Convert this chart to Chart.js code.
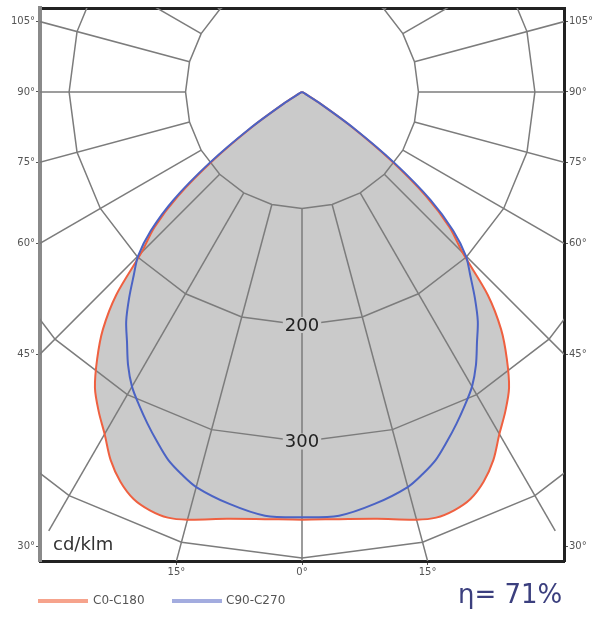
<!DOCTYPE html>
<html><head><meta charset="utf-8">
<script src="https://cdn.jsdelivr.net/npm/chart.js@4.4.1/dist/chart.umd.min.js"></script>
<style>html,body{margin:0;padding:0;background:#fff}canvas{display:block}</style>
</head><body>
<canvas id="c" width="600" height="617"></canvas>
<script>
// ---------- data ----------
const angles   = [0,5,10,15,17.5,20,22.5,25,27.5,30,32.5,35,37.5,40,42.5,45,47.5,50,52.5,55,57.5,60,65,70,75,80,85,90];
const c0c180   = [367,368,372,380,383,382,378,369,356,339,325,310,289,266,236,195,172,139,95,51,17,3,0,0,0,0,0,0];
const c90c270  = [365,365,359,351,344,336,325,314,303,292,278,262,248,231,214,199,176,144,100,55,19,3,0,0,0,0,0,0];
const seriesNames = ['C0-C180','C90-C270'];
const gridRings = [100,200,300,400];
const gridSpokeStep = 15;
const spokeRange = [100,435];
const sideTickAngles = [105,90,75,60,45,30];
const bottomTickAngles = [-15,0,15];
const ringLabels = [200,300];
const unitLabel = 'cd/klm';
const efficiencyLabel = 'η= 71%';

// ---------- axis window ----------
const X_MIN = -225, X_MAX = 225, Y_MIN = -402.5, Y_MAX = 72;

const RAD = Math.PI/180;
function polar(deg, r){ return {x: r*Math.sin(deg*RAD), y: -r*Math.cos(deg*RAD)}; }
function closedCurve(vals){
  const pts = [];
  for (let i = angles.length-1; i >= 0; i--) pts.push(polar(-angles[i], vals[i]));
  for (let i = 1; i < angles.length; i++) pts.push(polar(angles[i], vals[i]));
  return pts;
}

const FILL = '#cacaca';
const seriesColors = ['#ef6040','#4b63c4'];
const legendColors = ['#f6a38c','#a3acdf'];
const gridStyle = {showLine:true, fill:false, borderColor:'#7c7c7c', borderWidth:1.5, pointRadius:0, clip:0};
const CURVE_TENSION = 0.3;

const datasets = [];
[c0c180, c90c270].forEach((v,i) => datasets.push({
  label: seriesNames[i]+' area', data: closedCurve(v), showLine:true, fill:'shape', tension:CURVE_TENSION,
  backgroundColor: FILL, borderColor:'rgba(0,0,0,0)', borderWidth:0, pointRadius:0, order:10, clip:0
}));
gridRings.forEach(r => {
  const pts = [];
  for (let a = 0; a <= 360; a += gridSpokeStep) pts.push(polar(a, r));
  datasets.push(Object.assign({data:pts, order:5}, gridStyle));
});
for (let a = 0; a < 360; a += gridSpokeStep) {
  datasets.push(Object.assign({data:[polar(a, spokeRange[0]), polar(a, spokeRange[1])], order:5}, gridStyle));
}
[c0c180, c90c270].forEach((v,i) => datasets.push({
  label: seriesNames[i], data: closedCurve(v), showLine:true, fill:false, tension:CURVE_TENSION,
  borderColor: seriesColors[i], borderWidth:2, pointRadius:0, order:2-i, clip:0
}));

const sideTickValue = a => X_MIN*Math.cos(a*RAD)/Math.sin(a*RAD);
const bottomTickValue = a => -Y_MIN*Math.tan(a*RAD);
const tickFont = {family:'DejaVu Sans', size:10};

function sideAxis(position, width){
  return {
    type:'linear', position, min:Y_MIN, max:Y_MAX, display:true, z:1,
    afterBuildTicks: s => { s.ticks = sideTickAngles.map(a => ({value: sideTickValue(a)})); },
    afterFit: s => { s.width = width; },
    ticks:{autoSkip:false, padding:1, color:'#555', font:tickFont,
      callback:(v,i) => sideTickAngles[i]+'°'},
    grid:{display:true, drawOnChartArea:false, drawTicks:true, tickLength:4, tickColor:'#555', lineWidth:1},
    border:{display:true, color: position==='left' ? '#8a8a8a' : '#222', width: position==='left' ? 4 : 3}
  };
}

const deco = {
  id:'deco',
  afterDatasetsDraw(chart){
    const {ctx, scales:{x, y}} = chart;
    ctx.save();
    ctx.font = '18px "DejaVu Sans"';
    ctx.textAlign = 'center'; ctx.textBaseline = 'middle';
    ringLabels.forEach(v => {
      const px = x.getPixelForValue(0), py = y.getPixelForValue(-v);
      const t = String(v), w = ctx.measureText(t).width;
      ctx.fillStyle = FILL; ctx.fillRect(px-w/2-2, py-8, w+4, 16);
      ctx.fillStyle = '#222'; ctx.fillText(t, px, py+1);
    });
    ctx.restore();
  },
  afterDraw(chart){
    const {ctx, chartArea:ca} = chart;
    ctx.save();
    ctx.fillStyle = '#333'; ctx.font = '18px "DejaVu Sans"';
    ctx.textAlign = 'left'; ctx.textBaseline = 'middle';
    ctx.fillText(unitLabel, ca.left+13, ca.bottom-16);
    // legend
    const ly = 601;
    const items = [{x0:38, x1:88, tx:93}, {x0:172, x1:222, tx:226}];
    items.forEach((it,i) => {
      ctx.strokeStyle = legendColors[i]; ctx.lineWidth = 4;
      ctx.beginPath(); ctx.moveTo(it.x0, ly); ctx.lineTo(it.x1, ly); ctx.stroke();
      ctx.fillStyle = '#555'; ctx.font = '12px "DejaVu Sans"';
      ctx.fillText(seriesNames[i], it.tx, ly);
    });
    // efficiency
    ctx.fillStyle = '#3b3f7e'; ctx.font = '26px "DejaVu Sans"';
    ctx.textBaseline = 'alphabetic';
    ctx.fillText(efficiencyLabel, 458, 603);
    ctx.restore();
  }
};

new Chart(document.getElementById('c'), {
  type:'scatter',
  data:{datasets},
  plugins:[deco],
  options:{
    responsive:false, animation:false, devicePixelRatio:1, events:[],
    layout:{padding:0, autoPadding:false},
    plugins:{legend:{display:false}, tooltip:{enabled:false}},
    scales:{
      x:{type:'linear', position:'bottom', min:X_MIN, max:X_MAX, display:true, z:1,
        afterBuildTicks: s => { s.ticks = bottomTickAngles.map(a => ({value: bottomTickValue(a)})); },
        afterFit: s => { s.height = 56; },
        ticks:{autoSkip:false, maxRotation:0, padding:1, color:'#555', font:tickFont,
          callback:(v,i) => Math.abs(bottomTickAngles[i])+'°'},
        grid:{display:true, drawOnChartArea:false, drawTicks:true, tickLength:4, tickColor:'#555', lineWidth:1},
        border:{display:true, color:'#222', width:3}},
      x2:{type:'linear', position:'top', min:X_MIN, max:X_MAX, display:true, z:1,
        afterFit: s => { s.height = 8; },
        ticks:{display:false},
        grid:{display:false, drawOnChartArea:false, drawTicks:false},
        border:{display:true, color:'#222', width:3}},
      y: sideAxis('left', 40),
      y2: sideAxis('right', 36)
    }
  }
});
</script>
</body></html>
